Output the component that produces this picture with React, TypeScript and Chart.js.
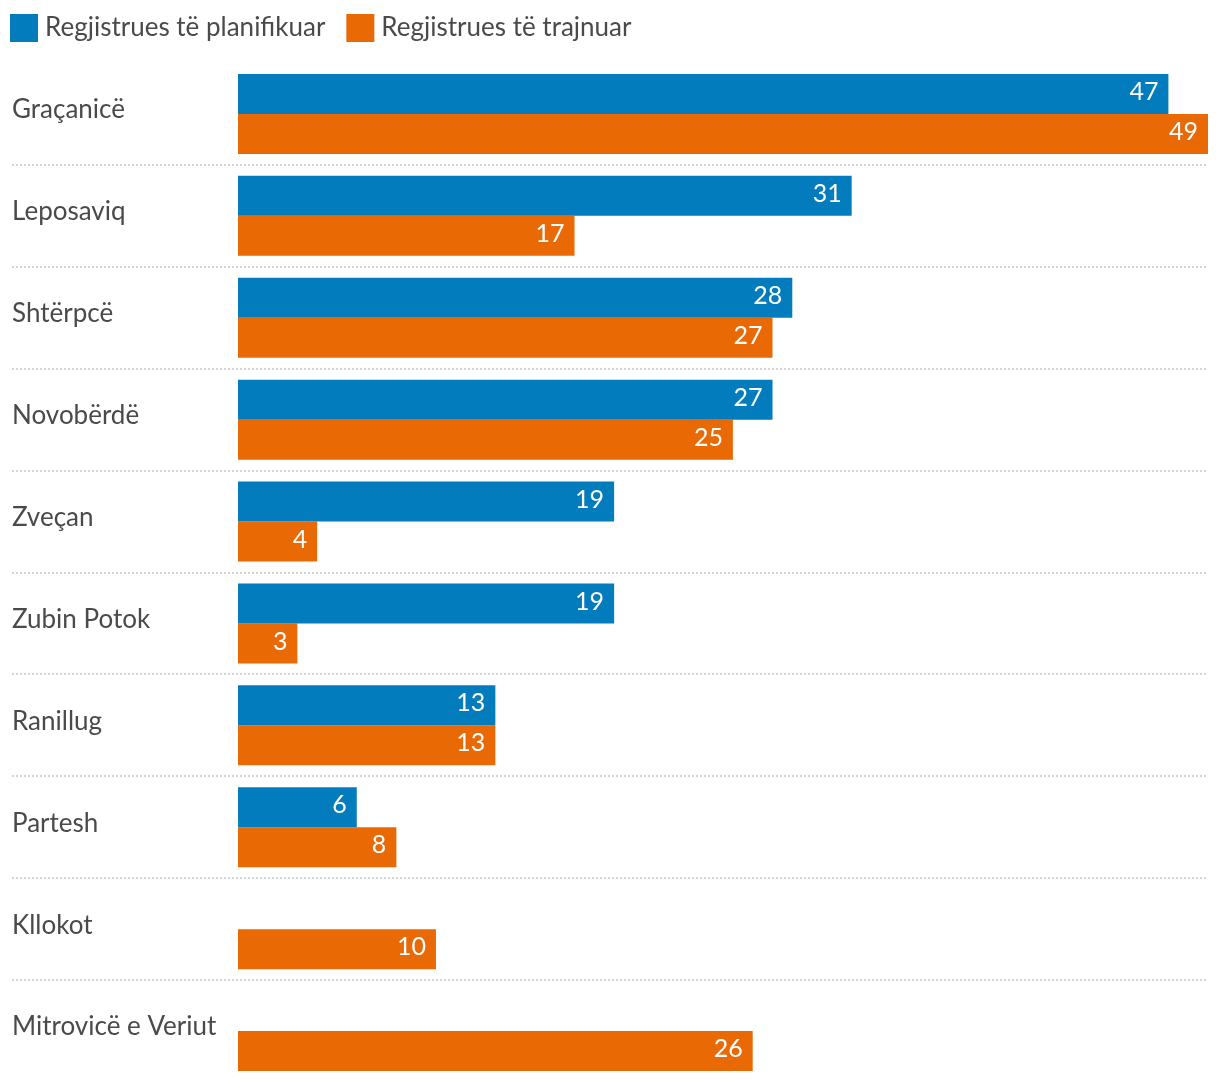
import React, { useEffect, useRef } from "react";
import { Chart, registerables } from "chart.js";

Chart.register(...registerables);

const categories = [
  "Graçanicë",
  "Leposaviq",
  "Shtërpcë",
  "Novobërdë",
  "Zveçan",
  "Zubin Potok",
  "Ranillug",
  "Partesh",
  "Kllokot",
  "Mitrovicë e Veriut",
];
const plannedLabel = "Regjistrues të planifikuar";
const trainedLabel = "Regjistrues të trajnuar";
const planned = [47, 31, 28, 27, 19, 19, 13, 6, null, null];
const trained = [49, 17, 27, 25, 4, 3, 13, 8, 10, 26];

const BLUE = "#027cbc";
const ORANGE = "#e96905";
const FONT = "Lato, 'Open Sans', sans-serif";
const TEXT = "#4a4a4a";

const separatorPlugin = {
  id: "separators",
  beforeDatasetsDraw(chart: any) {
    const { ctx } = chart;
    const y = chart.scales.y;
    ctx.save();
    ctx.strokeStyle = "#d4d4d4";
    ctx.lineWidth = 2;
    ctx.setLineDash([2, 2]);
    for (let i = 0; i < categories.length - 1; i++) {
      const py = Math.round((y.getPixelForValue(i) + y.getPixelForValue(i + 1)) / 2);
      ctx.beginPath();
      ctx.moveTo(12, py);
      ctx.lineTo(chart.chartArea.right, py);
      ctx.stroke();
    }
    ctx.restore();
  },
};

const valueLabelPlugin = {
  id: "valueLabels",
  afterDatasetsDraw(chart: any) {
    const { ctx } = chart;
    ctx.save();
    ctx.font = `25px ${FONT}`;
    ctx.fillStyle = "#ffffff";
    ctx.textAlign = "right";
    ctx.textBaseline = "middle";
    chart.data.datasets.forEach((ds: any, di: number) => {
      const meta = chart.getDatasetMeta(di);
      meta.data.forEach((bar: any, i: number) => {
        const v = ds.data[i];
        if (v === null || v === undefined) return;
        ctx.fillText(String(v), bar.x - 10, bar.y - 2);
      });
    });
    ctx.restore();
  },
};

const legendPlugin = {
  id: "customLegend",
  afterDraw(chart: any) {
    const { ctx } = chart;
    ctx.save();
    ctx.font = `26px ${FONT}`;
    ctx.textBaseline = "middle";
    ctx.textAlign = "left";
    let x = 10;
    const items = [
      { label: plannedLabel, color: BLUE },
      { label: trainedLabel, color: ORANGE },
    ];
    items.forEach((it) => {
      ctx.fillStyle = it.color;
      ctx.fillRect(x, 14, 28, 28);
      ctx.fillStyle = TEXT;
      ctx.fillText(it.label, x + 35, 28);
      x += 35 + ctx.measureText(it.label).width + 21;
    });
    ctx.restore();
  },
};

export default function App() {
  const ref = useRef<HTMLCanvasElement | null>(null);
  useEffect(() => {
    document.body.style.margin = "0";
    const chart = new Chart(ref.current as HTMLCanvasElement, {
      type: "bar",
      data: {
        labels: categories,
        datasets: [
          { label: plannedLabel, data: planned, backgroundColor: BLUE },
          { label: trainedLabel, data: trained, backgroundColor: ORANGE },
        ],
      },
      options: {
        indexAxis: "y",
        animation: false,
        responsive: false,
        maintainAspectRatio: false,
        layout: { padding: { top: 63, left: 12, right: 12, bottom: 0 } },
        datasets: { bar: { categoryPercentage: 0.785, barPercentage: 1.0 } },
        plugins: { legend: { display: false }, tooltip: { enabled: false } },
        scales: {
          x: { display: false, min: 0, max: 49 },
          y: {
            grid: { display: false },
            border: { display: false },
            afterFit: (s: any) => {
              s.width = 226;
              s.paddingTop = 0;
              s.paddingBottom = 0;
            },
            ticks: {
              crossAlign: "far",
              labelOffset: -4,
              color: TEXT,
              font: { family: FONT, size: 26 },
            },
          },
        },
      },
      plugins: [separatorPlugin, valueLabelPlugin, legendPlugin],
    } as any);
    return () => chart.destroy();
  }, []);
  return <canvas ref={ref} width={1220} height={1082} style={{ display: "block" }} />;
}
